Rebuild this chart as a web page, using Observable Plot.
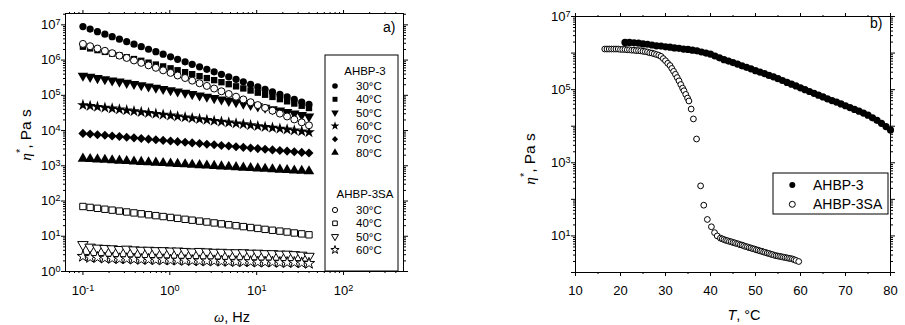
<!DOCTYPE html>
<html><head><meta charset="utf-8">
<script src="https://cdn.jsdelivr.net/npm/d3@7"></script>
<script src="https://cdn.jsdelivr.net/npm/@observablehq/plot@0.6"></script>
<style>
body{margin:0;background:#fff;}
#wrap{display:flex;width:905px;height:325px;background:#fff;}
#wrap svg{display:block;overflow:visible;}
</style></head><body><div id="wrap"></div>
<script>
// ---------- Panel a) data: eta* vs omega ----------
const omega = [0.1, 0.121, 0.147, 0.179, 0.217, 0.263, 0.319, 0.387, 0.469, 0.569, 0.691, 0.838, 1.02, 1.23, 1.5, 1.81, 2.2, 2.67, 3.24, 3.93, 4.77, 5.79, 7.02, 8.51, 10.3, 12.5, 15.2, 18.5, 22.4, 27.1, 33, 40];
const a30 = [8.91e6, 7.57e6, 6.41e6, 5.45e6, 4.62e6, 3.92e6, 3.33e6, 2.82e6, 2.40e6, 2.03e6, 1.73e6, 1.47e6, 1.24e6, 1.05e6, 8.95e5, 7.60e5, 6.44e5, 5.47e5, 4.65e5, 3.94e5, 3.34e5, 2.84e5, 2.41e5, 2.04e5, 1.73e5, 1.47e5, 1.25e5, 1.06e5, 9.0e4, 7.64e4, 6.47e4, 5.5e4];
const a40 = [2.40e6, 2.15e6, 1.92e6, 1.71e6, 1.52e6, 1.36e6, 1.21e6, 1.07e6, 9.53e5, 8.45e5, 7.46e5, 6.61e5, 5.83e5, 5.14e5, 4.53e5, 3.98e5, 3.50e5, 3.08e5, 2.70e5, 2.36e5, 2.07e5, 1.80e5, 1.57e5, 1.37e5, 1.19e5, 1.04e5, 9.02e4, 7.80e4, 6.76e4, 5.85e4, 5.06e4, 4.37e4];
const a50 = [3.60e5, 3.34e5, 3.09e5, 2.86e5, 2.65e5, 2.45e5, 2.26e5, 2.09e5, 1.94e5, 1.78e5, 1.64e5, 1.51e5, 1.39e5, 1.28e5, 1.18e5, 1.08e5, 9.93e4, 9.10e4, 8.34e4, 7.64e4, 6.98e4, 6.40e4, 5.83e4, 5.33e4, 4.86e4, 4.44e4, 4.04e4, 3.68e4, 3.35e4, 3.04e4, 2.77e4, 2.51e4];
const a60 = [5.30e4, 5.00e4, 4.72e4, 4.46e4, 4.22e4, 3.98e4, 3.76e4, 3.55e4, 3.35e4, 3.16e4, 2.99e4, 2.82e4, 2.67e4, 2.52e4, 2.38e4, 2.24e4, 2.12e4, 2.00e4, 1.89e4, 1.79e4, 1.69e4, 1.59e4, 1.51e4, 1.42e4, 1.34e4, 1.27e4, 1.20e4, 1.13e4, 1.07e4, 1.01e4, 9.53e3, 8.99e3];
const a70 = [8300, 7960, 7640, 7330, 7030, 6750, 6470, 6210, 5960, 5710, 5480, 5260, 5050, 4840, 4650, 4460, 4280, 4100, 3940, 3780, 3630, 3480, 3340, 3210, 3080, 2950, 2830, 2720, 2610, 2500, 2400, 2300];
const a80 = [1600, 1556, 1517, 1476, 1439, 1400, 1365, 1327, 1291, 1259, 1225, 1194, 1161, 1130, 1102, 1072, 1045, 1016, 991, 964, 938, 914, 889, 867, 843, 822, 800, 778, 759, 738, 719, 700];
const sa30 = [2.88e6, 2.48e6, 2.13e6, 1.83e6, 1.57e6, 1.34e6, 1.15e6, 9.77e5, 8.36e5, 7.10e5, 6.04e5, 5.12e5, 4.34e5, 3.66e5, 3.10e5, 2.61e5, 2.20e5, 1.85e5, 1.56e5, 1.30e5, 1.09e5, 9.14e4, 7.64e4, 6.37e4, 5.30e4, 4.41e4, 3.66e4, 3.03e4, 2.51e4, 2.07e4, 1.71e4, 1.41e4];
const sa40 = [70.0, 65.9, 62.1, 58.5, 55.1, 51.9, 48.9, 46.0, 43.4, 40.8, 38.5, 36.3, 34.2, 32.2, 30.3, 28.6, 26.9, 25.4, 23.9, 22.5, 21.2, 20.0, 18.8, 17.7, 16.7, 15.7, 14.8, 14.0, 13.2, 12.4, 11.7, 11.0];
const sa50 = [5.8, 4.9, 4.6, 4.5, 4.4, 4.2, 4.3, 4.1, 4.0, 4.0, 3.9, 3.9, 3.8, 3.8, 3.7, 3.6, 3.7, 3.6, 3.5, 3.5, 3.4, 3.4, 3.4, 3.3, 3.3, 3.2, 3.2, 3.1, 3.1, 3.0, 2.9, 2.7];
const sa60 = [2.7, 2.5, 2.5, 2.4, 2.35, 2.3, 2.3, 2.25, 2.2, 2.2, 2.15, 2.15, 2.1, 2.1, 2.05, 2.05, 2.0, 2.0, 2.0, 1.95, 1.95, 1.9, 1.9, 1.9, 1.85, 1.85, 1.85, 1.8, 1.8, 1.8, 1.75, 1.7];

const groupA = "AHBP-3";
const groupSA = "AHBP-3SA";
const tempLabelsA = ["30°C", "40°C", "50°C", "60°C", "70°C", "80°C"];
const tempLabelsSA = ["30°C", "40°C", "50°C", "60°C"];

// ---------- Panel b) data: eta* vs T ----------
const tempA = [21,22,23,24,25,26,27,28,29,30,31,32,33,34,35,36,37,38,39,40,41,42,43,44,45,46,47,48,49,50,51,52,53,54,55,56,57,58,59,60,61,62,63,64,65,66,67,68,69,70,71,72,73,74,75,76,77,78,79,80];
const etaA = [1.95e6,1.95e6,1.91e6,1.86e6,1.78e6,1.74e6,1.66e6,1.58e6,1.55e6,1.48e6,1.45e6,1.38e6,1.35e6,1.29e6,1.26e6,1.20e6,1.15e6,1.07e6,1.00e6,9.33e5,8.32e5,7.41e5,6.61e5,6.03e5,5.50e5,5.01e5,4.47e5,4.07e5,3.72e5,3.31e5,3.02e5,2.75e5,2.45e5,2.24e5,2.00e5,1.78e5,1.58e5,1.41e5,1.26e5,1.12e5,1.00e5,8.91e4,7.94e4,7.08e4,6.31e4,5.62e4,5.01e4,4.57e4,4.07e4,3.63e4,3.24e4,2.88e4,2.57e4,2.29e4,2.00e4,1.70e4,1.45e4,1.20e4,9.77e3,7.94e3];
const tempSA = [16.5,17,17.5,18,18.5,19,19.5,20,20.5,21,21.5,22,22.5,23,23.5,24,24.5,25,25.5,26,26.5,27,27.5,28,28.5,29,29.5,30,30.5,31,31.4,31.8,32.2,32.6,33,33.4,33.8,34.1,34.5,34.9,35.2,35.7,36.2,36.9,37.8,38.5,39.3,40.2,40.9,41.5,42.2,42.6,43,43.4,43.8,44.2,44.6,45,45.4,45.8,46.2,46.6,47,47.4,47.8,48.2,48.6,49,49.4,49.8,50.2,50.6,51,51.4,51.8,52.2,52.6,53,53.4,53.8,54.2,54.6,55,55.4,55.8,56.2,56.6,57,57.4,57.8,58.2,58.6,59,59.6];
const etaSA = [1.29e6,1.29e6,1.29e6,1.29e6,1.29e6,1.29e6,1.29e6,1.26e6,1.26e6,1.26e6,1.23e6,1.23e6,1.20e6,1.20e6,1.17e6,1.17e6,1.15e6,1.12e6,1.10e6,1.07e6,1.02e6,1.00e6,9.55e5,9.12e5,8.71e5,8.13e5,7.08e5,6.17e5,5.25e5,4.57e5,3.80e5,3.16e5,2.63e5,2.14e5,1.74e5,1.38e5,1.10e5,9.33e4,7.41e4,5.89e4,4.90e4,2.95e4,1.58e4,4.47e3,234,69.2,28.2,17.8,12.3,10.0,8.71,8.32,7.94,7.59,7.41,7.08,6.92,6.61,6.46,6.17,6.03,5.75,5.62,5.37,5.13,5.01,4.79,4.68,4.47,4.37,4.17,4.07,3.89,3.80,3.63,3.55,3.39,3.31,3.16,3.09,2.95,2.88,2.82,2.75,2.69,2.63,2.57,2.51,2.45,2.40,2.34,2.24,2.14,2.00];

// ---------- tick values ----------
const aXTicks = [0.1, 1, 10, 100];
const aYTicks = [1, 10, 100, 1e3, 1e4, 1e5, 1e6, 1e7];
const bXTicks = [10, 20, 30, 40, 50, 60, 70, 80];
const bXMinor = [15, 25, 35, 45, 55, 65, 75];
const bYLabelled = [10, 1e3, 1e5, 1e7];
const bYDecades = [1, 10, 100, 1e3, 1e4, 1e5, 1e6, 1e7];

// ---------- styles ----------
const FONT = 'Arial, "Liberation Sans", sans-serif';
const sqrt3 = Math.sqrt(3);
const triangleDown = {draw(ctx, size) {
  const y = -Math.sqrt(size / (sqrt3 * 3));
  ctx.moveTo(0, -y * 2); ctx.lineTo(-sqrt3 * y, y); ctx.lineTo(sqrt3 * y, y); ctx.closePath();
}};
const diamond = d3.symbolDiamond2 || d3.symbolDiamond;
const seriesA = [a30, a40, a50, a60, a70, a80];
const seriesSA = [sa30, sa40, sa50, sa60];
const symA = [d3.symbolCircle, d3.symbolSquare, triangleDown, d3.symbolStar, diamond, d3.symbolTriangle];
const rA = [3.6, 3.6, 3.9, 3.7, 4.1, 3.9];
const symSA = [d3.symbolCircle, d3.symbolSquare, triangleDown, d3.symbolStar];
const rSA = [3.5, 3.6, 3.9, 3.6];

function logMinor(lo, hi) {
  const out = [];
  for (let e = Math.floor(Math.log10(lo)); e <= Math.ceil(Math.log10(hi)); e++)
    for (let k = 2; k <= 9; k++) { const v = k * Math.pow(10, e); if (v >= lo && v <= hi) out.push(v); }
  return out;
}
const powFmt = d => "10^" + Math.round(Math.log10(d));
const none = () => "";

function boxAxes(xMajor, xMinor, yMajor, yMinor, xFmt, yFmt, yLabelledSet, padX, fs) {
  return [
    Plot.axisX(xMajor, {anchor: "bottom", tickSize: 4, tickPadding: padX, tickFormat: xFmt, label: null, fontSize: fs}),
    Plot.axisX(xMinor, {anchor: "bottom", tickSize: 2, tickFormat: none, label: null}),
    Plot.axisX(xMajor, {anchor: "top", tickSize: 4, tickFormat: none, label: null}),
    Plot.axisX(xMinor, {anchor: "top", tickSize: 2, tickFormat: none, label: null}),
    Plot.axisY(yMajor, {anchor: "left", tickSize: 4, tickPadding: 1, tickFormat: d => (yLabelledSet.has(d) ? yFmt(d) : ""), label: null, fontSize: fs}),
    Plot.axisY(yMinor, {anchor: "left", tickSize: 2, tickFormat: none, label: null}),
    Plot.axisY(yMajor, {anchor: "right", tickSize: 4, tickFormat: none, label: null}),
    Plot.axisY(yMinor, {anchor: "right", tickSize: 2, tickFormat: none, label: null}),
    Plot.frame({stroke: "black", strokeWidth: 1})
  ];
}

function superscripts(svg) {
  d3.select(svg).selectAll("text").each(function() {
    const m = /^10\^(-?\d+)$/.exec(this.textContent);
    if (m) {
      const s = d3.select(this);
      s.text(null);
      s.append("tspan").text("10");
      s.append("tspan").attr("dy", "-0.45em").attr("font-size", "0.7em").text(m[1]);
    }
  });
}

function symPath(type, r) { return d3.symbol().type(type).size(Math.PI * r * r)(); }

// ---------- Panel a) ----------
const aXDom = [0.063, 490], aYDom = [1, 2.1e7];
const dotsA = seriesA.map((vals, i) => Plot.dot(omega.map((w, j) => ({w, eta: vals[j]})),
  {x: "w", y: "eta", symbol: symA[i], r: rA[i], fill: "black", stroke: "none"}));
const dotsSA = seriesSA.map((vals, i) => Plot.dot(omega.map((w, j) => ({w, eta: vals[j]})),
  {x: "w", y: "eta", symbol: symSA[i], r: rSA[i], fill: "white", stroke: "black", strokeWidth: 1}));

const chartA = Plot.plot({
  width: 452, height: 325, marginLeft: 65, marginRight: 49, marginTop: 13, marginBottom: 54,
  style: {fontFamily: FONT, fontSize: "13px", color: "black", background: "white"},
  x: {type: "log", domain: aXDom},
  y: {type: "log", domain: aYDom},
  marks: [
    ...boxAxes(aXTicks, logMinor(...aXDom), aYTicks, logMinor(...aYDom), powFmt, powFmt, new Set(aYTicks), 10, 13),
    ...dotsA, ...dotsSA,
    Plot.text(["a)"], {text: d => d, frameAnchor: "top-right", textAnchor: "end", lineAnchor: "top", dx: -8, dy: 9, fontSize: 14})
  ]
});
superscripts(chartA);
{
  const g = d3.select(chartA).append("g").attr("font-family", FONT).attr("fill", "black").attr("text-anchor", "start");
  const yl = g.append("text").attr("transform", "translate(25,135) rotate(-90)").attr("text-anchor", "middle")
    .attr("dominant-baseline", "central").attr("font-size", 15.5);
  yl.append("tspan").attr("font-family", '"Liberation Serif", serif').attr("font-style", "italic").text("η");
  yl.append("tspan").attr("dy", -5).attr("font-size", 11).text("*");
  yl.append("tspan").attr("dy", 5).text(", Pa s");
  const xl = g.append("text").attr("x", 232).attr("y", 322).attr("text-anchor", "middle").attr("font-size", 14.5);
  xl.append("tspan").attr("font-family", '"Liberation Serif", serif').attr("font-style", "italic").text("ω");
  xl.append("tspan").text(", Hz");
  // legend
  const lg = g.append("g").attr("font-size", 11.5);
  lg.append("rect").attr("x", 325).attr("y", 55).attr("width", 73).attr("height", 216)
    .attr("fill", "white").attr("stroke", "black").attr("stroke-width", 1);
  lg.append("text").attr("x", 365).attr("y", 71).attr("text-anchor", "middle").attr("dominant-baseline", "central").text(groupA);
  tempLabelsA.forEach((t, i) => {
    const y = 86 + 13.3 * i;
    lg.append("path").attr("d", symPath(symA[i], 2.8)).attr("transform", `translate(335,${y})`).attr("fill", "black");
    lg.append("text").attr("x", 356).attr("y", y).attr("text-anchor", "start").attr("dominant-baseline", "central").text(t);
  });
  lg.append("text").attr("x", 365).attr("y", 194).attr("text-anchor", "middle").attr("dominant-baseline", "central").text(groupSA);
  tempLabelsSA.forEach((t, i) => {
    const y = 210 + 13.3 * i;
    lg.append("path").attr("d", symPath(symSA[i], 2.6)).attr("transform", `translate(335,${y})`)
      .attr("fill", "white").attr("stroke", "black").attr("stroke-width", 1);
    lg.append("text").attr("x", 356).attr("y", y).attr("text-anchor", "start").attr("dominant-baseline", "central").text(t);
  });
}

// ---------- Panel b) ----------
const bXDom = [10, 80], bYDom = [1, 1e7];
const chartB = Plot.plot({
  width: 453, height: 325, marginLeft: 123, marginRight: 15, marginTop: 16, marginBottom: 53,
  style: {fontFamily: FONT, fontSize: "13px", color: "black", background: "white"},
  x: {type: "linear", domain: bXDom},
  y: {type: "log", domain: bYDom},
  marks: [
    ...boxAxes(bXTicks, bXMinor, bYDecades, logMinor(...bYDom), d => String(d), powFmt, new Set(bYLabelled), 9, 13),
    Plot.dot(tempA.map((T, i) => ({T, eta: etaA[i]})), {x: "T", y: "eta", r: 3.6, fill: "black", stroke: "none"}),
    Plot.dot(tempSA.map((T, i) => ({T, eta: etaSA[i]})), {x: "T", y: "eta", r: 2.9, fill: "white", stroke: "black", strokeWidth: 1}),
    Plot.text(["b)"], {text: d => d, frameAnchor: "top-right", textAnchor: "end", lineAnchor: "top", dx: -8, dy: 2, fontSize: 14})
  ]
});
superscripts(chartB);
{
  const g = d3.select(chartB).append("g").attr("font-family", FONT).attr("fill", "black").attr("text-anchor", "start");
  const yl = g.append("text").attr("transform", "translate(77,159) rotate(-90)").attr("text-anchor", "middle")
    .attr("dominant-baseline", "central").attr("font-size", 15.5);
  yl.append("tspan").attr("font-family", '"Liberation Serif", serif').attr("font-style", "italic").text("η");
  yl.append("tspan").attr("dy", -5).attr("font-size", 11).text("*");
  yl.append("tspan").attr("dy", 5).text(", Pa s");
  const xl = g.append("text").attr("x", 292).attr("y", 320).attr("text-anchor", "middle").attr("font-size", 14.5);
  xl.append("tspan").attr("font-style", "italic").text("T");
  xl.append("tspan").text(", °C");
  const lg = g.append("g").attr("font-size", 14);
  lg.append("rect").attr("x", 321).attr("y", 173).attr("width", 115).attr("height", 41)
    .attr("fill", "white").attr("stroke", "black").attr("stroke-width", 1);
  [[groupA, false], [groupSA, true]].forEach(([name, open], i) => {
    const y = 185 + 19.3 * i;
    lg.append("circle").attr("cx", 340.3).attr("cy", y).attr("r", 3)
      .attr("fill", open ? "white" : "black").attr("stroke", open ? "black" : "none").attr("stroke-width", 1);
    lg.append("text").attr("x", 361).attr("y", y).attr("text-anchor", "start").attr("dominant-baseline", "central").text(name);
  });
}

document.getElementById("wrap").append(chartA, chartB);
</script>
</body></html>
